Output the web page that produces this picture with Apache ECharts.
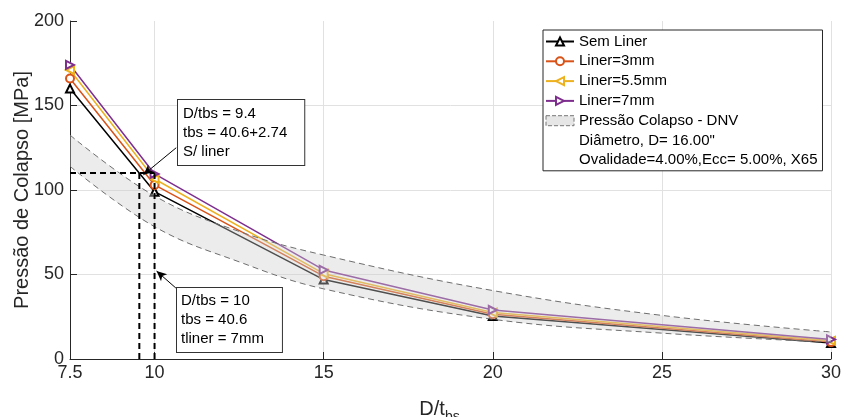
<!DOCTYPE html>
<html>
<head>
<meta charset="utf-8">
<script src="https://cdn.jsdelivr.net/npm/echarts@6/dist/echarts.min.js"></script>
<style>
  html, body { margin: 0; padding: 0; background: #fff; }
  #chart { width: 845px; height: 417px; }
</style>
</head>
<body>
<div id="chart"></div>
<script>
// D/t_bs dos casos calculados
const dt = [7.5, 10, 15, 20, 30]
const semLiner = [160, 99, 47, 25.5, 9.5]
const liner3 = [166, 103, 49, 26.5, 10]
const liner55 = [171, 106.5, 50.5, 27.5, 10.8]
const liner7 = [174, 109.5, 52.7, 29, 11.6]

// faixa de pressao de colapso DNV (limites sup/inf)
const dnvDt = [7.5, 10, 12.5, 15, 20, 25, 30]
const dnvSup = [132.5, 96.5, 75.5, 61.5, 40.5, 25.8, 16]
const dnvInf = [114, 78.3, 57.5, 41.5, 23.5, 15.3, 9.9]

// linhas tracejadas de referencia e setas das anotacoes (coord. do grafico)
const refX = [9.55, 10]
const refY = 110
const seta1 = [[10.64, 125], [9.67, 109]]
const seta2 = [[10.63, 42], [10.06, 52]]

const fonte = '"Liberation Sans", Arial, sans-serif'
const corTxt = '#262626'

function pares(xs, ys) {
  return xs.map((x, i) => [x, ys[i]])
}

function serie(nome, vals, cor, simbolo, rot) {
  return {
    name: nome,
    type: 'line',
    data: pares(dt, vals),
    symbol: simbolo,
    symbolRotate: rot,
    symbolSize: 8,
    lineStyle: { color: cor, width: 1.5 },
    itemStyle: { color: cor, borderWidth: 1.2 },
    z: 2
  }
}

// para empilhar em y com eixo x numerico, o y vai na 1a dimensao
function faixa(nome, vals, area) {
  const s = {
    name: nome,
    type: 'line',
    stack: 'dnv',
    data: dnvDt.map((x, i) => [vals[i], x]),
    encode: { x: 1, y: 0 },
    smooth: 0.4,
    symbol: 'none',
    lineStyle: { color: '#6e6e6e', width: 1, type: [6, 4] },
    z: 3
  }
  if (area) s.areaStyle = { color: 'rgba(205,205,205,0.55)' }
  return s
}

const chart = echarts.init(document.getElementById('chart'))

const series = [
  serie('Sem Liner', semLiner, '#000000', 'emptyTriangle', 0),
  serie('Liner=3mm', liner3, '#D95319', 'emptyCircle', 0),
  serie('Liner=5.5mm', liner55, '#EDB120', 'emptyTriangle', 90),
  serie('Liner=7mm', liner7, '#7E2F8E', 'emptyTriangle', -90),
  faixa('dnvInf', dnvInf, false),
  faixa('Pressão Colapso - DNV', dnvSup.map((v, i) => v - dnvInf[i]), true),
  // entradas so de texto na legenda
  { name: 'Diâmetro, D= 16.00"', type: 'line', data: [] },
  { name: 'Ovalidade=4.00%,Ecc= 5.00%, X65', type: 'line', data: [] },
  // linhas tracejadas
  {
    name: 'guia',
    type: 'line',
    data: [[dt[0], refY], [refX[1], refY]],
    symbol: 'none',
    lineStyle: { color: '#000', width: 2, type: [6, 4] },
    z: 4,
    markLine: {
      silent: true,
      symbol: ['none', 'arrow'],
      symbolSize: [7, 10],
      label: { show: false },
      lineStyle: { color: '#000', width: 1, type: 'solid' },
      data: [
        [{ coord: seta1[0] }, { coord: seta1[1] }],
        [{ coord: seta2[0] }, { coord: seta2[1] }]
      ]
    }
  },
  {
    name: 'guia2',
    type: 'line',
    data: [[refX[0], refY], [refX[0], 0]],
    symbol: 'none',
    lineStyle: { color: '#000', width: 2, type: [6, 4] },
    z: 4
  },
  {
    name: 'guia3',
    type: 'line',
    data: [[refX[1], refY], [refX[1], 0]],
    symbol: 'none',
    lineStyle: { color: '#000', width: 2, type: [6, 4] },
    z: 4
  }
]

chart.setOption({
  animation: false,
  backgroundColor: '#fff',
  grid: { left: 70, right: 14, top: 21, bottom: 58, outerBoundsMode: 'none' },
  legend: {
    orient: 'vertical',
    left: 543,
    top: 30,
    padding: [4, 5, 3, 2],
    itemWidth: 28,
    itemHeight: 10,
    itemGap: 4.8,
    selectedMode: false,
    backgroundColor: '#fff',
    borderColor: '#262626',
    borderWidth: 1,
    borderRadius: 0,
    textStyle: { fontSize: 15, color: '#000', fontFamily: fonte },
    data: [
      'Sem Liner', 'Liner=3mm', 'Liner=5.5mm', 'Liner=7mm',
      {
        name: 'Pressão Colapso - DNV',
        icon: 'rect',
        itemStyle: { color: '#e6e6e6', borderColor: '#777', borderWidth: 1, borderType: 'dashed' }
      },
      { name: 'Diâmetro, D= 16.00"', icon: 'none' },
      { name: 'Ovalidade=4.00%,Ecc= 5.00%, X65', icon: 'none' }
    ]
  },
  xAxis: {
    type: 'value',
    min: 7.5,
    max: 30,
    name: '{a|D/t}{b|bs}',
    nameLocation: 'middle',
    nameGap: 40,
    nameMoveOverlap: false,
    nameTextStyle: {
      color: corTxt,
      padding: [0, 22, 0, 0],
      rich: {
        a: { fontSize: 20, lineHeight: 20, color: corTxt, fontFamily: fonte, verticalAlign: 'top' },
        b: { fontSize: 14, lineHeight: 36, color: corTxt, fontFamily: fonte, verticalAlign: 'middle' }
      }
    },
    axisLine: { show: true, lineStyle: { color: corTxt, width: 1 } },
    axisTick: { show: true, inside: true, length: 7, lineStyle: { color: corTxt } },
    axisLabel: { fontSize: 18, color: corTxt, fontFamily: fonte, margin: 5 },
    splitLine: { show: true, lineStyle: { color: '#e1e1e1', width: 1 } }
  },
  yAxis: {
    type: 'value',
    min: 0,
    max: 200,
    interval: 50,
    name: 'Pressão de Colapso [MPa]',
    nameLocation: 'middle',
    nameGap: 38,
    nameMoveOverlap: false,
    nameTextStyle: { fontSize: 20, color: corTxt, fontFamily: fonte },
    axisLine: { show: true, lineStyle: { color: corTxt, width: 1 } },
    axisTick: { show: true, inside: true, length: 7, lineStyle: { color: corTxt } },
    axisLabel: { fontSize: 18, color: corTxt, fontFamily: fonte, margin: 6 },
    splitLine: { show: true, showMaxLine: false, lineStyle: { color: '#e1e1e1', width: 1 } }
  },
  graphic: [
    {
      type: 'text',
      left: 177,
      top: 99,
      z: 10,
      style: {
        text: 'D/tbs = 9.4\ntbs = 40.6+2.74\nS/ liner',
        font: '15px ' + fonte,
        fill: '#000',
        lineHeight: 19,
        backgroundColor: '#fff',
        borderColor: '#333',
        borderWidth: 1,
        padding: [4, 17, 4, 5]
      }
    },
    {
      type: 'text',
      left: 176,
      top: 287,
      z: 10,
      style: {
        text: 'D/tbs = 10\ntbs = 40.6\ntliner = 7mm',
        font: '15px ' + fonte,
        fill: '#000',
        lineHeight: 19,
        backgroundColor: '#fff',
        borderColor: '#333',
        borderWidth: 1,
        padding: [3, 18, 4, 4]
      }
    }
  ],
  series: series
})
</script>
</body>
</html>
